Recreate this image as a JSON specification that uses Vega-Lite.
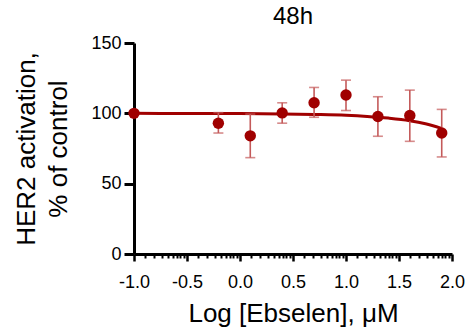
{
  "$schema": "https://vega.github.io/schema/vega-lite/v6.json",
  "width": 318,
  "height": 211,
  "autosize": "none",
  "padding": {"left": 134, "top": 43, "right": 17, "bottom": 82},
  "background": "white",
  "datasets": {
    "pts": [
      {"logc": -1.0, "pct": 100.0, "lo": 100.0, "hi": 100.0},
      {"logc": -0.204, "pct": 93.0, "lo": 86.0, "hi": 100.5},
      {"logc": 0.097, "pct": 84.0, "lo": 68.5, "hi": 99.5},
      {"logc": 0.398, "pct": 100.3, "lo": 93.0, "hi": 107.5},
      {"logc": 0.699, "pct": 107.5, "lo": 97.2, "hi": 118.4},
      {"logc": 1.0, "pct": 113.0, "lo": 102.0, "hi": 123.6},
      {"logc": 1.301, "pct": 97.8, "lo": 83.7, "hi": 111.8},
      {"logc": 1.602, "pct": 98.5, "lo": 80.1, "hi": 116.5},
      {"logc": 1.903, "pct": 86.0, "lo": 69.0, "hi": 102.8}
    ],
    "fit": [
      {"logc": -1.0, "pct": 100.0},
      {"logc": -0.5, "pct": 99.9},
      {"logc": 0.0, "pct": 99.8},
      {"logc": 0.4, "pct": 99.6},
      {"logc": 0.7, "pct": 99.2},
      {"logc": 1.0, "pct": 98.6},
      {"logc": 1.2, "pct": 97.8},
      {"logc": 1.4, "pct": 96.6},
      {"logc": 1.6, "pct": 94.8},
      {"logc": 1.75, "pct": 92.6},
      {"logc": 1.9, "pct": 89.3}
    ]
  },
  "title": {
    "text": "48h",
    "font": "Liberation Sans",
    "fontSize": 24,
    "fontWeight": "normal",
    "color": "black",
    "anchor": "middle",
    "offset": 5
  },
  "encoding": {
    "x": {
      "field": "logc",
      "type": "quantitative",
      "scale": {"domain": [-1, 2], "nice": false, "zero": false},
      "axis": {
        "title": "Log [Ebselen], μM",
        "values": [-1, -0.9, -0.81, -0.74, -0.68, -0.635, -0.595, -0.565, -0.53,
                   -0.5, -0.4, -0.31, -0.24, -0.18, -0.135, -0.095, -0.065, -0.03,
                   0, 0.1, 0.19, 0.26, 0.32, 0.365, 0.405, 0.435, 0.47,
                   0.5, 0.6, 0.69, 0.76, 0.82, 0.865, 0.905, 0.935, 0.97,
                   1, 1.1, 1.19, 1.26, 1.32, 1.365, 1.405, 1.435, 1.47,
                   1.5, 1.6, 1.69, 1.76, 1.82, 1.865, 1.905, 1.935, 1.97, 2],
        "labelExpr": "abs(datum.value * 2 - round(datum.value * 2)) < 0.001 ? (datum.value < 0 ? '-' + format(-datum.value, '.1f') : format(datum.value, '.1f')) : ''",
        "tickSize": {"condition": {"test": "abs(datum.value * 2 - round(datum.value * 2)) < 0.001", "value": 7}, "value": 4},
        "tickWidth": {"condition": {"test": "abs(datum.value * 2 - round(datum.value * 2)) < 0.001", "value": 2.5}, "value": 2},
        "grid": false,
        "domainColor": "black",
        "domainWidth": 3,
        "tickColor": "black",
        "labelFont": "Liberation Sans",
        "labelFontSize": 18,
        "labelColor": "black",
        "labelPadding": 12,
        "labelOverlap": false,
        "labelFlush": false,
        "titleFont": "Liberation Sans",
        "titleFontSize": 26,
        "titleFontWeight": "normal",
        "titleColor": "black",
        "titlePadding": 9
      }
    },
    "y": {
      "field": "pct",
      "type": "quantitative",
      "scale": {"domain": [0, 150], "nice": false},
      "axis": {
        "title": ["HER2 activation,", "% of control"],
        "values": [0, 50, 100, 150],
        "grid": false,
        "domainColor": "black",
        "domainWidth": 3,
        "tickColor": "black",
        "tickWidth": 3,
        "tickSize": 10,
        "labelFont": "Liberation Sans",
        "labelFontSize": 18,
        "labelColor": "black",
        "labelPadding": 3,
        "labelFlush": false,
        "titleFont": "Liberation Sans",
        "titleFontSize": 26,
        "titleFontWeight": "normal",
        "titleColor": "black",
        "titleLineHeight": 32,
        "titlePadding": 19
      }
    }
  },
  "layer": [
    {
      "data": {"name": "fit"},
      "mark": {"type": "line", "color": "#a00000", "strokeWidth": 3, "interpolate": "monotone"},
      "encoding": {}
    },
    {
      "data": {"name": "pts"},
      "mark": {
        "type": "errorbar",
        "color": "#c45a5a",
        "thickness": 1.6,
        "ticks": {"size": 10, "color": "#c45a5a", "thickness": 1.6}
      },
      "encoding": {
        "y": {"field": "lo", "type": "quantitative"},
        "y2": {"field": "hi"}
      }
    },
    {
      "data": {"name": "pts"},
      "mark": {"type": "point", "filled": true, "color": "#a00000", "opacity": 1, "size": 130},
      "encoding": {}
    }
  ],
  "config": {
    "view": {"stroke": null},
    "font": "Liberation Sans"
  }
}
